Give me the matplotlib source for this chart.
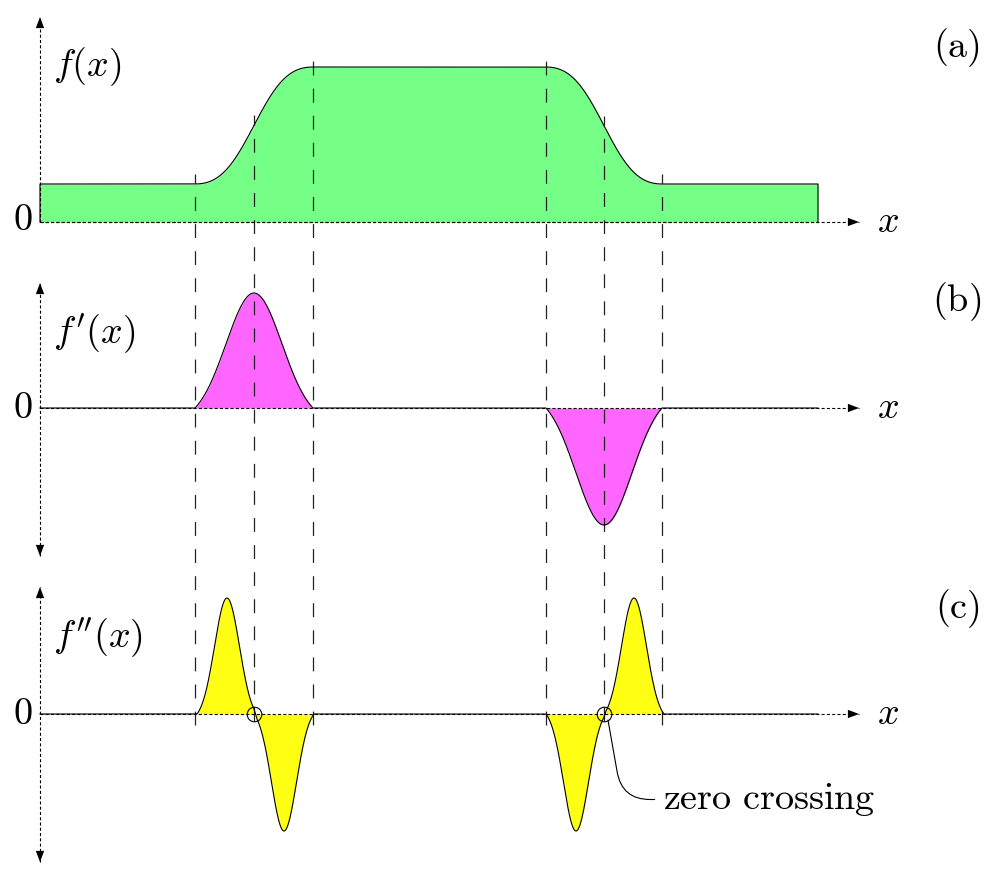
import numpy as np
import matplotlib
matplotlib.use("Agg")
import matplotlib.pyplot as plt
from matplotlib.patches import FancyArrowPatch

plt.rcParams['mathtext.fontset'] = 'cm'
plt.rcParams['lines.scale_dashes'] = False

# whole figure is one axes, 1 unit = 100 px, y upwards
x_origin = 0.40
x_fill_end = 8.18
x_arrow_end = 8.59
zero_lines = [6.58, 4.72, 1.66]      # zero level of (a), (b), (c)

# (a) f(x): low and high level, edges of the rising and falling part
f_low = 0.38
f_high = 1.55
rise_edges = [1.95, 3.13]
fall_edges = [5.46, 6.62]

# (b) f'(x): peak values of the two bumps
slope_peaks = [1.15, -1.17]
slope_sigma = 0.28

# (c) f''(x): four lobes
curv_centres = [2.27, 2.84, 5.76, 6.34]
curv_peaks = [1.16, -1.17, -1.17, 1.16]
curv_sigma = 0.125
curv_half = 0.30

func_labels = ["$f(x)$", "$f'(x)$", "$f''(x)$"]
panel_tags = ["(a)", "(b)", "(c)"]

green = '#76ff86'
magenta = '#ff66ff'
yellow = '#ffff14'


def bell(x, c, s, h):
    e0 = np.exp(-h**2 / (2 * s**2))
    b = (np.exp(-(x - c)**2 / (2 * s**2)) - e0) / (1 - e0)
    b[np.abs(x - c) > h] = 0
    return np.clip(b, 0, None)


x = np.linspace(x_origin, x_fill_end, 6000)
rise_c = np.mean(rise_edges)
fall_c = np.mean(fall_edges)
rise_h = (rise_edges[1] - rise_edges[0]) / 2
fall_h = (fall_edges[1] - fall_edges[0]) / 2
b_up = bell(x, rise_c, slope_sigma, rise_h)
b_dn = bell(x, fall_c, slope_sigma, fall_h)
step_up = np.cumsum(b_up) / b_up.sum()
step_dn = np.cumsum(b_dn) / b_dn.sum()
f = f_low + (f_high - f_low) * (step_up - step_dn)
d1 = slope_peaks[0] * b_up + slope_peaks[1] * b_dn
d2 = np.zeros_like(x)
for c, p in zip(curv_centres, curv_peaks):
    d2 += p * bell(x, c, curv_sigma, curv_half)

fig = plt.figure(figsize=(9.91, 8.8), dpi=100)
ax = fig.add_axes([0, 0, 1, 1])
ax.set_xlim(0, 9.91)
ax.set_ylim(0, 8.8)
ax.axis('off')

dot = (0, (2.2, 1.6))


def arrow(x0, y0, x1, y1, both=False):
    ax.plot([x0, x1], [y0, y1], color='k', lw=0.8, ls=dot, zorder=4)
    style = '<|-|>' if both else '-|>'
    ax.add_patch(FancyArrowPatch((x0, y0), (x1, y1),
                                 arrowstyle=style + ',head_length=0.8,head_width=0.3',
                                 mutation_scale=10, lw=0, color='k',
                                 shrinkA=0, shrinkB=0, zorder=5))


# (a)
y0 = zero_lines[0]
ax.fill_between(x, y0, y0 + f, color=green, lw=0, zorder=1)
ax.plot(np.r_[x[0], x, x[-1]], np.r_[y0, y0 + f, y0], color='k', lw=0.8, zorder=3)
ax.plot([x[0], x[-1]], [y0, y0], color='k', lw=0.8, ls=dot, zorder=3)
arrow(x_origin, y0, x_arrow_end, y0)
arrow(x_origin, y0, x_origin, 8.63)

# (b)
y1 = zero_lines[1]
ax.fill_between(x, y1, y1 + d1, color=magenta, lw=0, zorder=1)
ax.plot(x, y1 + d1, color='k', lw=0.8, zorder=3)
arrow(x_origin, y1, x_arrow_end, y1)
arrow(x_origin, 3.24, x_origin, 5.97, both=True)

# (c)
y2 = zero_lines[2]
ax.fill_between(x, y2, y2 + d2, color=yellow, lw=0, zorder=1)
ax.plot(x, y2 + d2, color='k', lw=0.8, zorder=3)
arrow(x_origin, y2, x_arrow_end, y2)
arrow(x_origin, 0.18, x_origin, 2.93, both=True)

# dashed guide lines
guides = [rise_edges[0], rise_c, rise_edges[1], fall_edges[0], fall_c, fall_edges[1]]
for i, g in enumerate(guides):
    top = y0 + np.interp(g, x, f) + 0.10
    bottom = y2 - 0.07 if i in (1, 4) else y2 - 0.11
    ax.plot([g, g], [bottom, top], color='#222222', lw=0.9,
            dashes=(10, 9.5), zorder=2)

# zero crossings
ax.plot([rise_c, fall_c], [y2, y2], 'o', mfc='none', mec='k', ms=10.5, mew=0.8, zorder=6)

fs = 27.5
ax.text(0.33, y0 + 0.02, "$0$", fontsize=fs, ha='right', va='center')
ax.text(0.33, y1, "$0$", fontsize=fs, ha='right', va='center')
ax.text(0.33, y2, "$0$", fontsize=fs, ha='right', va='center')
for yb in zero_lines:
    ax.text(8.88, yb, "$x$", fontsize=fs, ha='center', va='center')
for lab, yl in zip(func_labels, [8.13, 5.47, 2.43]):
    ax.text(0.53, yl, lab, fontsize=fs, ha='left', va='center')
for tag, yt in zip(panel_tags, [8.32, 5.78, 2.71]):
    ax.text(9.57, yt, r"$\mathrm{" + tag + "}$", fontsize=fs, ha='center', va='center')

ax.annotate(r"$\mathrm{zero\ crossing}$", xy=(fall_c + 0.04, y2 - 0.06),
            xytext=(6.63, 0.71), fontsize=fs, ha='left', va='baseline',
            arrowprops=dict(arrowstyle='-', lw=0.8, color='k', relpos=(0, 0.5),
                            shrinkA=4, shrinkB=0,
                            connectionstyle='angle,angleA=0,angleB=100,rad=28'))

fig.savefig('out.png', dpi=100)
